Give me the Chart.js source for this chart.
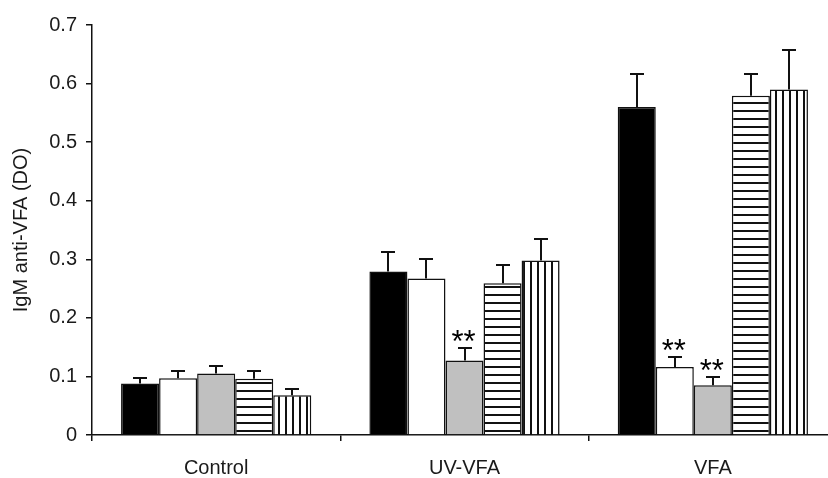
<!DOCTYPE html>
<html>
<head>
<meta charset="utf-8">
<script src="https://cdn.jsdelivr.net/npm/chart.js@4/dist/chart.umd.min.js"></script>
<style>
  html, body { margin: 0; padding: 0; background: #fff; overflow: hidden; }
  #wrap { position: relative; width: 845px; height: 478px; }
</style>
</head>
<body>
<div id="wrap"><canvas id="chart"></canvas></div>
<script>
// Groups along the x axis
const categories = ['Control', 'UV-VFA', 'VFA'];

// Mean IgM anti-VFA optical density per treatment series
const seriesSolid      = [0.088, 0.279, 0.560];
const seriesOpen       = [0.097, 0.267, 0.116];
const seriesGray       = [0.105, 0.127, 0.085];
const seriesHorizontal = [0.096, 0.259, 0.579];
const seriesVertical   = [0.068, 0.298, 0.590];

// Upper error (standard error) for each series
const errSolid      = [0.009, 0.033, 0.057];
const errOpen       = [0.013, 0.034, 0.018];
const errGray       = [0.013, 0.021, 0.014];
const errHorizontal = [0.013, 0.032, 0.038];
const errVertical   = [0.010, 0.037, 0.067];

// Significance marks per series and group
const marksSolid      = ['', '', ''];
const marksOpen       = ['', '', '**'];
const marksGray       = ['', '**', '**'];
const marksHorizontal = ['', '', ''];
const marksVertical   = ['', '', ''];

// Y axis tick labels
const yTickLabels = ['0', '0.1', '0.2', '0.3', '0.4', '0.5', '0.6', '0.7'];

const FONT = "'Liberation Sans', Arial, sans-serif";
const INK = '#1a1a1a';

function stripePattern(horizontal) {
  const c = document.createElement('canvas');
  const period = horizontal ? 8 : 7;
  c.width = horizontal ? 8 : period;
  c.height = horizontal ? period : 8;
  const g = c.getContext('2d');
  g.fillStyle = '#ffffff';
  g.fillRect(0, 0, c.width, c.height);
  g.fillStyle = '#111111';
  if (horizontal) g.fillRect(0, period - 2, c.width, 2);
  else g.fillRect(period - 2, 0, 2, c.height);
  return g.createPattern(c, 'repeat');
}

const ctx = document.getElementById('chart').getContext('2d');
const hPattern = stripePattern(true);
const vPattern = stripePattern(false);

const seriesDefs = [
  { data: seriesSolid,      err: errSolid,      marks: marksSolid,      fill: '#000000' },
  { data: seriesOpen,       err: errOpen,       marks: marksOpen,       fill: '#ffffff' },
  { data: seriesGray,       err: errGray,       marks: marksGray,       fill: '#c0c0c0' },
  { data: seriesHorizontal, err: errHorizontal, marks: marksHorizontal, fill: hPattern },
  { data: seriesVertical,   err: errVertical,   marks: marksVertical,   fill: vPattern }
];

// Upward error bars with caps, plus the ** significance marks above them
const errorBarPlugin = {
  id: 'errorBars',
  afterDatasetsDraw(chart) {
    const g = chart.ctx;
    const yScale = chart.scales.y;
    g.save();
    g.strokeStyle = '#111';
    g.lineWidth = 2;
    seriesDefs.forEach((s, i) => {
      const meta = chart.getDatasetMeta(i);
      meta.data.forEach((bar, j) => {
        const top = Math.round(yScale.getPixelForValue(s.data[j] + s.err[j]));
        const x = Math.round(bar.x);
        g.beginPath();
        g.moveTo(x, bar.y);
        g.lineTo(x, top);
        g.moveTo(x - 7, top);
        g.lineTo(x + 7, top);
        g.stroke();
        if (s.marks[j]) {
          g.font = '31px ' + FONT;
          g.fillStyle = '#000';
          g.textAlign = 'center';
          g.textBaseline = 'alphabetic';
          const m = g.measureText(s.marks[j]);
          g.fillText(s.marks[j], bar.x - 1, top - 6 - m.actualBoundingBoxDescent);
        }
      });
    });
    g.restore();
  }
};

new Chart(ctx, {
  type: 'bar',
  data: {
    labels: categories,
    datasets: seriesDefs.map((s, i) => ({
      label: 'Series ' + (i + 1),
      data: s.data,
      backgroundColor: s.fill,
      borderColor: '#111',
      borderWidth: 1.5,
      categoryPercentage: 0.766,
      barPercentage: 1.0
    }))
  },
  options: {
    responsive: true,
    maintainAspectRatio: false,
    animation: false,
    devicePixelRatio: 1,
    layout: { padding: { top: 25, right: 8, left: 0, bottom: 0 } },
    plugins: {
      legend: { display: false },
      tooltip: { enabled: false }
    },
    scales: {
      x: {
        offset: true,
        grid: {
          offset: true,
          drawOnChartArea: false,
          drawTicks: true,
          tickLength: 6,
          color: '#111',
          lineWidth: 1.5
        },
        border: { color: '#111', width: 1.5 },
        ticks: {
          color: INK,
          font: { family: FONT, size: 20 },
          padding: 15,
          maxRotation: 0
        },
        afterFit(scale) { scale.height = 43; }
      },
      y: {
        min: 0,
        max: 0.7,
        grid: {
          drawOnChartArea: false,
          drawTicks: true,
          tickLength: 6,
          color: '#111',
          lineWidth: 1.5
        },
        border: { color: '#111', width: 1.5 },
        ticks: {
          stepSize: 0.1,
          color: INK,
          font: { family: FONT, size: 20 },
          padding: 9,
          callback: (v) => yTickLabels[Math.round(v * 10)]
        },
        title: {
          display: true,
          text: 'IgM anti-VFA (DO)',
          color: INK,
          font: { family: FONT, size: 20 },
          padding: { top: 9, bottom: 0 }
        },
        afterFit(scale) { scale.width = 92; }
      }
    }
  },
  plugins: [errorBarPlugin]
});
</script>
</body>
</html>
